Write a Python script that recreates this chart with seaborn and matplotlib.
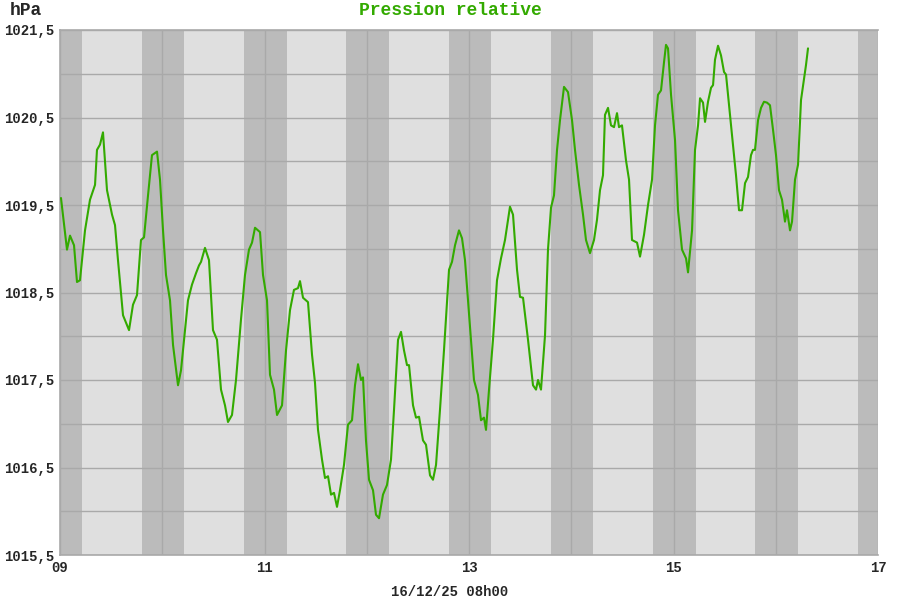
import matplotlib
matplotlib.use("Agg")
import matplotlib.pyplot as plt
import numpy as np
import pandas as pd
import seaborn as sns

# hours since 09/12 00h00
hours = [0.23, 1.64, 2.35, 3.29, 3.99, 4.69, 5.87, 7.04, 8.22, 8.68, 9.39, 10.09,
         11.03, 12.21, 12.91, 13.61, 14.79, 16.20, 17.13, 18.07, 19.01, 19.72,
         20.66, 21.59, 22.77, 23.47, 24.18, 24.88, 25.82, 26.53, 27.70, 28.40,
         29.11, 30.04, 30.98, 31.92, 32.63, 33.10, 34.03, 34.97, 35.91, 36.85,
         37.79, 38.73, 39.43, 40.37, 41.31, 42.48, 43.42, 44.36, 45.07, 45.77,
         46.95, 47.65, 48.59, 49.29, 50.23, 50.94, 52.11, 53.05, 53.99, 54.92,
         55.86, 56.33, 57.04, 58.21, 59.15, 59.85, 60.56, 61.50, 62.20, 62.91,
         63.61, 64.31, 65.02, 65.72, 66.66, 67.60, 68.54, 69.24, 69.95, 70.65,
         71.12, 71.82, 72.53, 73.47, 74.17, 74.88, 75.81, 76.75, 77.69, 78.40,
         79.34, 80.04, 80.74, 81.45, 81.92, 82.86, 83.56, 84.27, 85.20, 85.91,
         86.85, 87.55, 88.26, 89.19, 90.13, 91.31, 92.01, 92.72, 93.65, 94.36,
         95.06, 95.77, 96.47, 97.17, 98.11, 98.82, 99.52, 99.99, 100.70, 101.63,
         102.57, 103.51, 104.45, 105.62, 106.33, 107.27, 107.97, 108.68, 109.85,
         111.02, 111.73, 112.20, 112.90, 113.84, 114.54, 115.25, 115.95, 116.66,
         117.36, 118.30, 119.24, 120.18, 120.88, 121.82, 122.76, 123.46, 124.40,
         125.34, 126.04, 126.75, 127.45, 127.92, 128.63, 129.33, 130.04, 130.74,
         131.21, 131.91, 132.85, 133.56, 134.26, 135.44, 136.14, 137.08, 138.02,
         138.96, 139.66, 140.36, 141.07, 141.77, 142.24, 142.71, 143.42, 144.36,
         145.06, 146.00, 146.94, 147.41, 148.35, 149.05, 149.76, 150.23, 150.93,
         151.40, 152.10, 152.81, 153.28, 153.74, 154.45, 155.15, 155.86, 156.33,
         157.03, 157.73, 158.67, 159.38, 160.08, 160.79, 161.49, 162.19, 162.66,
         163.13, 163.84, 164.54, 165.24, 165.95, 166.65, 167.36, 168.06, 168.76,
         169.47, 170.17, 170.64, 171.35, 171.82, 172.52, 173.23, 173.93, 175.10,
         175.57]
pressure = [1019.58, 1018.99, 1019.15, 1019.04, 1018.62, 1018.64, 1019.21, 1019.56,
            1019.73, 1020.13, 1020.19, 1020.33, 1019.67, 1019.39, 1019.27, 1018.87,
            1018.24, 1018.07, 1018.36, 1018.47, 1019.10, 1019.13, 1019.61, 1020.07,
            1020.11, 1019.79, 1019.21, 1018.70, 1018.41, 1017.90, 1017.44, 1017.61,
            1017.96, 1018.41, 1018.59, 1018.72, 1018.81, 1018.85, 1019.01, 1018.87,
            1018.07, 1017.96, 1017.39, 1017.21, 1017.02, 1017.10, 1017.50, 1018.19,
            1018.70, 1018.99, 1019.07, 1019.24, 1019.19, 1018.70, 1018.41, 1017.56,
            1017.39, 1017.10, 1017.21, 1017.84, 1018.30, 1018.53, 1018.55, 1018.63,
            1018.44, 1018.39, 1017.79, 1017.47, 1016.93, 1016.59, 1016.38, 1016.40,
            1016.19, 1016.21, 1016.05, 1016.24, 1016.53, 1016.99, 1017.04, 1017.44,
            1017.68, 1017.50, 1017.53, 1016.81, 1016.36, 1016.24, 1015.96, 1015.92,
            1016.19, 1016.30, 1016.59, 1017.16, 1017.96, 1018.05, 1017.84, 1017.67,
            1017.67, 1017.21, 1017.07, 1017.08, 1016.81, 1016.76, 1016.41, 1016.36,
            1016.53, 1017.16, 1017.84, 1018.76, 1018.85, 1019.04, 1019.21, 1019.12,
            1018.87, 1018.41, 1017.96, 1017.50, 1017.33, 1017.04, 1017.07, 1016.93,
            1017.39, 1017.96, 1018.64, 1018.89, 1019.10, 1019.48, 1019.39, 1018.76,
            1018.45, 1018.44, 1017.96, 1017.44, 1017.39, 1017.50, 1017.39, 1018.01,
            1018.99, 1019.47, 1019.61, 1020.13, 1020.47, 1020.85, 1020.79, 1020.47,
            1020.13, 1019.73, 1019.39, 1019.10, 1018.95, 1019.10, 1019.33, 1019.67,
            1019.84, 1020.53, 1020.61, 1020.41, 1020.39, 1020.55, 1020.39, 1020.41,
            1020.01, 1019.79, 1019.10, 1019.07, 1018.91, 1019.16, 1019.50, 1019.79,
            1020.41, 1020.76, 1020.81, 1021.13, 1021.33, 1021.29, 1020.76, 1020.24,
            1019.44, 1018.99, 1018.89, 1018.73, 1019.21, 1020.13, 1020.41, 1020.72,
            1020.67, 1020.45, 1020.68, 1020.84, 1020.87, 1021.16, 1021.32, 1021.21,
            1021.02, 1020.99, 1020.64, 1020.30, 1019.84, 1019.44, 1019.44, 1019.75,
            1019.82, 1020.07, 1020.13, 1020.13, 1020.47, 1020.61, 1020.68, 1020.67,
            1020.64, 1020.36, 1020.07, 1019.67, 1019.56, 1019.31, 1019.44, 1019.21,
            1019.31, 1019.79, 1019.96, 1020.70, 1021.10, 1021.29]

first_day = 9
days = list(range(9, 18))
x_labels = ["09", "", "11", "", "13", "", "15", "", "17"]
y_ticks = [1015.5 + 0.5 * i for i in range(13)]
y_labels = [f"{v:.1f}".replace(".", ",") if i % 2 == 0 else "" for i, v in enumerate(y_ticks)]
night_from, night_to = 19.2, 5.2  # hours

green = "#33aa00"
mono = "Liberation Mono"

df = pd.DataFrame({"day": [first_day + h / 24 for h in hours], "hPa": pressure})

sns.set_style("white")
plt.rcParams["font.family"] = [mono, "DejaVu Sans"]

fig = plt.figure(figsize=(9, 6), dpi=100)
ax = fig.add_axes([60 / 900, 45 / 600, 818 / 900, 525 / 600])
ax.set_facecolor("#dfdfdf")

for d in range(8, 17):
    ax.axvspan(d + night_from / 24, d + 1 + night_to / 24, color="#bbbbbb", lw=0, zorder=0.2)

sns.lineplot(data=df, x="day", y="hPa", ax=ax, color=green, lw=1.5, zorder=3)

ax.set_xlim(9, 17)
ax.set_ylim(1015.5, 1021.5)
ax.set_xticks(days)
ax.set_xticklabels(x_labels)
ax.set_yticks(y_ticks)
ax.set_yticklabels(y_labels)
ax.set_axisbelow(True)
ax.grid(True, color="#a9a9a9", lw=1)
ax.tick_params(length=0, labelsize=10, pad=4)
for lbl in ax.get_xticklabels() + ax.get_yticklabels():
    lbl.set_fontweight("bold")
ax.set_xlabel("")
ax.set_ylabel("")
for side in ["left", "bottom", "top"]:
    ax.spines[side].set_color("#a9a9a9")
    ax.spines[side].set_linewidth(1.2)
ax.spines["right"].set_visible(False)

fig.text(0.5, 0.983, "Pression relative", ha="center", va="center",
         color=green, fontsize=13, fontweight="bold")
fig.text(0.011, 0.982, "hPa", ha="left", va="center", fontsize=13, fontweight="bold")
fig.text(0.5, 0.014, "16/12/25 08h00", ha="center", va="center", fontsize=10, fontweight="bold")

fig.savefig("out.png", dpi=100)
